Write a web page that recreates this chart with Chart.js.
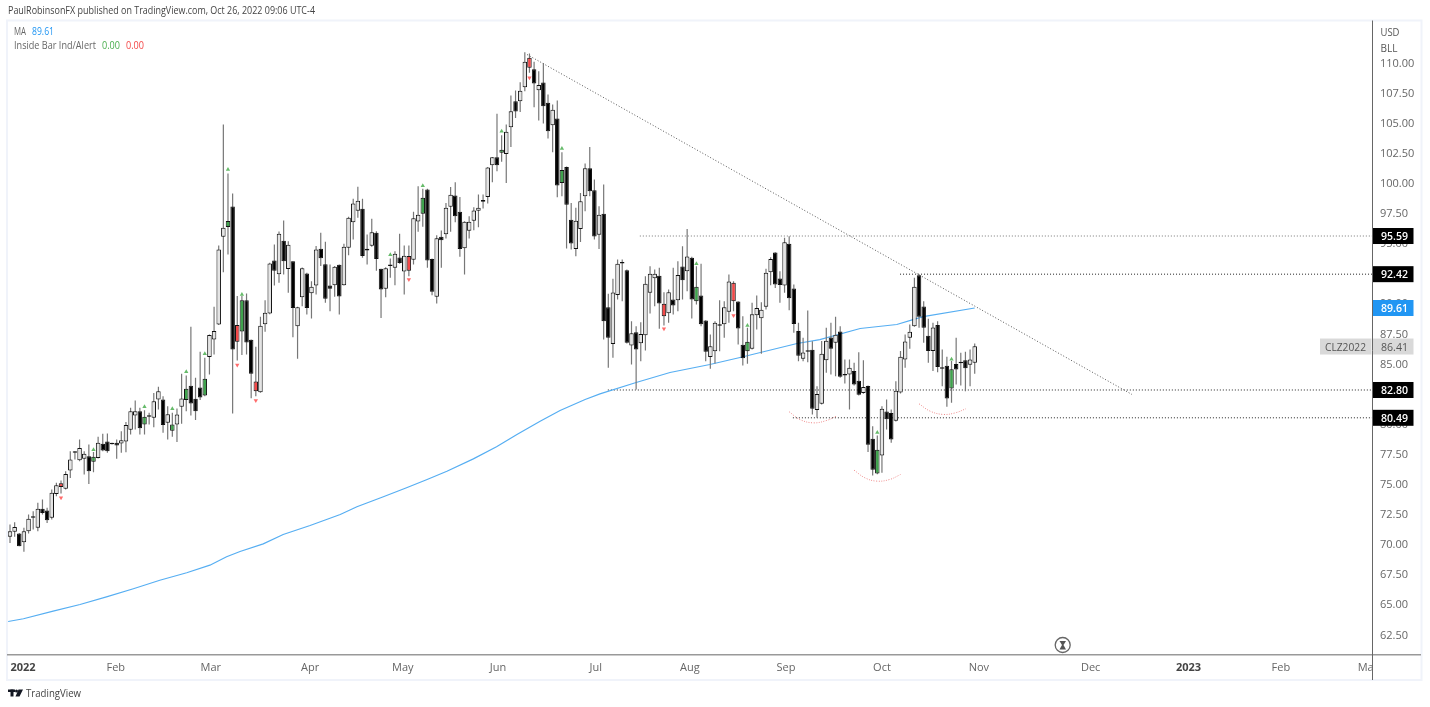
<!DOCTYPE html>
<html>
<head>
<meta charset="utf-8">
<title>CLZ2022</title>
<script src="https://cdn.jsdelivr.net/npm/chart.js@4"></script>
<style>
    html, body { margin: 0; padding: 0; background: #fff; }
    canvas { display: block; }
</style>
</head>
<body>
<canvas id="chart" width="1430" height="707"></canvas>
<script>
// candles, one per trading day
const opens = [70.60,71.02,70.88,70.16,71.07,72.26,71.35,72.93,72.79,72.18,74.17,75.06,74.59,76.11,77.63,76.97,77.08,77.30,76.83,77.16,78.33,78.52,78.35,78.41,78.35,78.52,79.49,80.68,81.04,79.93,80.65,80.49,82.01,82.01,80.07,79.41,
    79.93,81.40,81.96,83.15,82.07,83.01,82.34,85.53,87.00,88.24,95.52,96.33,98.04,88.19,87.66,90.26,86.97,83.51,82.62,88.27,89.16,93.56,92.42,95.19,92.84,93.50,88.10,90.51,92.48,90.84,91.48,94.53,93.25,91.48,91.51,93.20,91.51,94.61,96.74,97.68,97.85,94.53,94.78,95.86,92.87,91.20,93.14,92.95,93.81,92.64,93.92,
    93.61,96.79,97.43,99.45,93.69,90.54,95.52,95.74,98.01,98.95,97.60,94.58,96.02,96.85,97.68,98.43,98.84,101.47,102.14,102.50,102.41,104.63,106.79,106.79,107.95,110.39,109.45,107.70,108.34,106.65,104.79,105.35,100.00,101.33,96.93,94.52,96.18,98.90,101.22,99.40,95.69,97.43,89.68,86.63,90.70,93.31,92.75,86.50,87.60,
    86.69,87.35,90.87,92.09,92.28,89.96,89.18,90.32,90.26,93.06,92.67,93.78,90.18,90.65,88.57,85.55,86.02,88.18,88.27,89.29,91.70,90.15,86.55,86.02,86.22,89.01,88.76,89.71,92.59,94.22,92.06,91.48,94.94,91.23,87.71,85.39,86.05,
    86.14,81.13,81.65,85.28,87.16,86.72,87.66,84.09,84.09,84.37,83.56,82.54,83.14,78.74,75.86,77.36,81.01,80.88,80.24,82.59,85.33,87.13,88.10,92.34,89.74,87.30,86.03,88.19,84.64,84.81,82.92,84.95,85.08,85.28,84.89,85.06];
const highs = [71.63,71.82,70.93,71.35,72.46,72.73,73.43,73.70,73.01,74.53,75.09,75.28,76.06,77.72,77.72,78.69,77.72,78.27,77.66,78.91,79.16,79.18,78.41,78.69,79.38,80.15,81.32,81.93,81.32,81.12,80.90,82.56,83.06,82.29,81.45,80.90,
    81.26,84.14,84.00,88.05,83.81,85.97,85.47,87.41,89.71,94.80,104.85,100.78,99.12,90.60,90.60,90.82,87.00,86.39,88.88,90.26,93.36,94.89,95.97,96.88,95.16,93.50,89.71,92.98,92.53,91.84,94.75,95.86,95.11,93.23,93.09,93.23,94.94,97.18,98.68,99.68,98.68,95.72,97.02,95.99,92.87,93.00,93.72,94.33,95.77,94.80,94.80,
    97.60,99.73,99.51,99.51,93.72,95.66,96.05,98.34,99.67,100.06,98.84,96.82,97.24,97.98,99.04,99.04,101.33,102.16,105.74,103.96,104.85,107.26,107.67,108.37,110.86,110.75,110.06,109.28,109.97,107.34,106.51,106.84,102.55,101.36,98.34,97.93,99.17,101.61,102.99,100.28,98.06,99.87,90.79,92.03,93.64,93.64,92.81,88.52,88.10,
    88.43,92.25,93.08,92.81,92.95,90.92,91.15,92.95,93.50,94.74,96.18,93.86,93.08,93.28,88.60,87.41,88.52,90.26,90.18,92.39,91.84,90.18,88.93,87.96,90.04,90.65,90.09,92.86,93.83,94.25,92.67,95.44,95.58,91.56,88.38,87.13,89.40,
    86.85,83.12,86.86,87.96,88.38,88.88,88.10,85.33,85.33,85.06,85.94,85.28,83.17,79.79,79.02,81.46,82.01,81.18,83.53,86.03,87.41,88.24,92.12,92.39,90.18,88.71,88.38,88.52,86.16,85.56,85.20,87.13,85.89,85.97,86.16,86.66];
const lows = [70.10,70.60,69.82,69.36,70.88,71.21,71.07,72.46,71.76,72.04,73.98,74.20,74.53,75.50,77.02,76.89,75.78,75.00,75.97,77.11,77.72,77.58,78.27,77.08,77.58,77.63,79.10,79.52,79.10,79.10,79.93,79.71,81.18,79.24,78.69,78.91,
    78.47,79.99,81.04,80.68,80.30,81.96,82.29,84.09,85.75,88.19,92.59,94.06,80.85,85.25,85.70,85.75,82.12,82.29,82.57,87.63,89.10,91.48,91.70,92.40,90.87,87.19,85.39,89.76,89.07,88.74,90.73,93.09,90.04,89.35,90.54,89.07,91.48,94.00,95.30,97.10,93.78,93.23,94.69,92.70,88.77,90.51,92.12,91.51,93.28,90.73,92.25,
    93.22,95.94,96.35,92.95,90.67,89.98,92.95,95.38,95.94,96.74,93.86,92.39,95.38,96.07,96.32,97.87,98.29,100.06,100.97,101.75,100.00,102.99,105.40,105.90,107.62,109.14,106.29,105.18,104.93,103.69,102.55,98.81,98.90,94.55,94.47,93.91,95.10,97.65,98.90,95.30,94.52,86.99,84.64,85.47,90.32,90.18,86.66,84.92,82.84,
    85.19,86.08,89.15,89.76,87.88,88.16,88.38,89.07,89.35,90.32,91.01,88.74,89.90,88.10,85.19,84.56,85.00,86.02,87.13,88.38,89.35,86.58,84.83,84.97,86.16,87.82,85.80,89.48,91.51,91.28,90.04,90.87,89.43,87.55,85.19,85.19,85.11,
    80.77,80.49,81.60,84.23,84.09,83.95,83.81,83.34,81.18,83.17,82.34,82.48,77.64,75.70,75.81,75.92,79.52,78.41,80.18,82.51,84.64,86.22,88.05,87.96,86.72,85.06,84.37,84.28,83.12,81.40,81.73,83.26,83.17,82.70,83.12,84.14];
const closes = [71.07,71.43,69.82,71.07,72.10,72.18,72.93,72.59,71.99,74.26,74.89,74.75,75.83,77.02,77.58,77.99,77.50,76.06,77.25,78.41,77.77,77.72,78.30,78.19,78.63,79.90,81.04,81.04,79.63,80.57,80.57,81.87,82.70,79.90,80.79,79.93,
    80.77,82.09,82.90,81.68,81.04,82.18,83.73,87.36,87.69,94.47,96.27,96.83,86.17,86.80,90.26,86.75,84.14,82.70,88.13,89.21,93.31,92.70,95.77,93.50,94.86,89.60,89.68,92.92,89.60,91.37,94.47,93.75,90.37,91.20,93.03,90.57,94.69,97.10,98.29,98.51,93.92,94.39,95.91,93.67,91.15,92.92,93.09,94.11,93.34,93.95,92.70,
    97.07,97.35,98.76,93.55,90.95,95.41,95.24,97.93,99.01,97.24,94.52,96.77,96.77,97.71,97.93,98.59,101.28,102.14,101.47,102.75,104.24,105.96,105.93,107.65,110.06,109.56,108.26,108.14,106.37,104.30,106.07,99.78,101.08,98.18,94.96,96.85,98.48,101.22,99.31,95.55,97.35,88.52,87.13,90.90,93.28,93.44,86.72,87.52,86.16,
    87.46,91.62,92.45,92.45,89.98,88.93,90.92,89.82,92.36,91.92,93.89,90.32,91.37,88.27,85.97,86.44,88.38,88.13,89.68,91.81,90.18,87.91,85.44,86.80,89.10,89.62,89.46,92.53,93.69,91.56,91.53,95.08,90.43,88.29,85.64,85.91,85.97,
    81.24,82.46,85.80,86.88,86.22,87.38,83.89,84.00,84.64,83.26,82.40,83.04,78.25,76.17,77.83,81.24,80.38,78.69,82.73,85.56,86.83,87.63,91.37,88.88,87.96,86.03,87.99,84.70,84.56,82.10,84.53,84.50,85.03,84.61,85.33,86.44];

// bars the inside bar indicator paints
const greenBars = [18,29,35,38,42,47,50,89,106,119,148,159,187,203];
const redBars = [11,49,53,86,112,141,156];

// small arrows of the indicator
const arrowUpBars = [18,29,35,38,42,47,50,82,89,106,119,148,159,187,203];
const arrowUpValues = [77.83,81.40,81.24,84.31,85.81,101.12,90.73,94.03,99.76,104.30,102.86,93.28,88.16,79.27,85.36];
const arrowDownBars = [11,49,53,86,112,141,156];
const arrowDownValues = [73.84,84.87,81.93,91.98,108.73,87.88,88.99];

// moving average, sampled along the line
const maBars = [-0.4,2.9,9.3,15.1,20.8,26.6,32.3,38.1,43.1,46.7,49.6,54.6,58.9,64.7,71.2,74.8,80.5,85.5,89.8,94.2,99.9,104.9,109.3,114.3,118.6,124,127.2,135,142.3,150.9,157.4,169.7,174.6,183.3,191.2,194.7,196.9,208];
const maValues = [63.57,63.80,64.43,64.98,65.62,66.29,67.00,67.62,68.25,68.95,69.39,70.02,70.80,71.54,72.46,73.10,73.93,74.68,75.35,76.05,77.08,78.08,79.10,80.21,81.10,82.01,82.48,83.42,84.25,84.92,85.50,86.66,86.99,87.91,88.24,88.65,88.90,89.61];

// hand drawn lines
const trendBars = [111.5,241.9];
const trendValues = [110.66,82.43];
const levelValues = [95.59,92.42,82.80,80.49];
const levelStartBars = [135.8,191.9,128.9,168.8];
const arcBars = [[168,170.3,173.2,176.1,178.2],[182,184.3,186.9,189.7,192],[196,198.4,201.2,203.8,206.1]];
const arcValues = [[80.99,80.35,80.07,80.27,80.63],[76.14,75.51,75.23,75.37,75.78],[81.65,81.04,80.77,80.90,81.24]];

// axes
const priceTicks = [110,107.5,105,102.5,100,97.5,95,92.5,90,87.5,85,82.5,80,77.5,75,72.5,70,67.5,65,62.5];
const timeTickBars = [2.8,22.8,43.3,64.7,84.7,105.2,126.3,146.6,167.3,188,208.9,233,254.1,274,292.3];
const timeTickLabels = ['2022','Feb','Mar','Apr','May','Jun','Jul','Aug','Sep','Oct','Nov','Dec','2023','Feb','Ma'];

const FONT = '"Open Sans", sans-serif';
const minBar = -0.647;
const maxBar = 293.66;
const lastPrice = 86.41;
const maLast = 89.61;

const wickData = highs.map((h, i) => ({ x: i, y: [lows[i], h] }));
const bodyData = opens.map((o, i) => ({ x: i, y: [o, closes[i]] }));

function bodyColor(i) {
    if (greenBars.includes(i)) return '#3fa34d';
    if (redBars.includes(i)) return '#f44848';
    return closes[i] < opens[i] ? '#000000' : '#e4e4e4';
}

function zip(xs, ys) {
    return xs.map((x, i) => ({ x: x, y: ys[i] }));
}

const lineDefaults = { type: 'line', pointRadius: 0, borderWidth: 1, fill: false };

const levelSets = levelValues.map((v, i) => ({
    ...lineDefaults,
    data: [{ x: levelStartBars[i], y: v }, { x: maxBar, y: v }],
    borderColor: i === 0 ? '#777' : '#222',
    borderDash: [1, 2],
    order: 6
}));

const arcSets = arcBars.map((bars, i) => ({
    ...lineDefaults,
    data: zip(bars, arcValues[i]),
    borderColor: '#ef8a8a',
    borderDash: [1, 1.5],
    tension: 0.4,
    order: 6
}));

// price tags, header, legend and the other bits around the chart
const overlay = {
    id: 'overlay',
    afterDraw(chart) {
        const ctx = chart.ctx;
        const y = chart.scales.y;

        ctx.save();
        // frame
        ctx.strokeStyle = '#f0f3fa';
        ctx.lineWidth = 2;
        ctx.strokeRect(7, 20.5, 1414.5, 659.5);
        ctx.strokeStyle = '#999';
        ctx.lineWidth = 1.5;
        ctx.beginPath();
        ctx.moveTo(7, 654.8);
        ctx.lineTo(1421, 654.8);
        ctx.stroke();
        ctx.strokeStyle = '#666';
        ctx.lineWidth = 1;
        ctx.beginPath();
        ctx.moveTo(1372.5, 20.5);
        ctx.lineTo(1372.5, 680);
        ctx.stroke();

        ctx.textBaseline = 'middle';
        ctx.textAlign = 'left';

        // price tags
        ctx.font = '600 11.5px ' + FONT;
        levelValues.forEach(v => {
            const py = y.getPixelForValue(v);
            ctx.fillStyle = '#000';
            ctx.fillRect(1373, py - 8, 40.5, 16);
            ctx.fillStyle = '#fff';
            ctx.fillText(v.toFixed(2), 1381, py + 1, 27);
        });
        const maY = y.getPixelForValue(maLast);
        ctx.fillStyle = '#2196f3';
        ctx.fillRect(1373, maY - 8, 40.5, 16);
        ctx.fillStyle = '#fff';
        ctx.fillText(maLast.toFixed(2), 1381, maY + 1, 27);

        const lastY = y.getPixelForValue(lastPrice);
        ctx.fillStyle = '#d9d9d9';
        ctx.fillRect(1320, lastY - 8, 51.5, 16);
        ctx.fillRect(1373, lastY - 8, 40.5, 16);
        ctx.fillStyle = '#555';
        ctx.font = '11px ' + FONT;
        ctx.fillText('CLZ2022', 1325, lastY + 1, 41);
        ctx.fillText(lastPrice.toFixed(2), 1381, lastY + 1, 27);

        // currency and unit
        ctx.fillStyle = '#555';
        ctx.fillText('USD', 1380.5, 33, 19);
        ctx.fillText('BLL', 1380.5, 49, 17);

        // header
        ctx.fillStyle = '#444';
        ctx.font = '10.5px ' + FONT;
        ctx.fillText('PaulRobinsonFX published on TradingView.com, Oct 26, 2022 09:06 UTC-4', 8, 11.5, 307);

        // legend
        ctx.fillStyle = '#666';
        ctx.fillText('MA', 14, 32.5, 12);
        ctx.fillStyle = '#2196f3';
        ctx.fillText('89.61', 32, 32.5, 22);
        ctx.fillStyle = '#666';
        ctx.fillText('Inside Bar Ind/Alert', 14, 46, 82);
        ctx.fillStyle = '#4caf50';
        ctx.fillText('0.00', 102, 46, 18);
        ctx.fillStyle = '#f44848';
        ctx.fillText('0.00', 126, 46, 18);

        // hourglass
        ctx.strokeStyle = '#666';
        ctx.lineWidth = 1.3;
        ctx.beginPath();
        ctx.arc(1062.7, 645, 7.5, 0, Math.PI * 2);
        ctx.stroke();
        ctx.fillStyle = '#555';
        ctx.beginPath();
        ctx.moveTo(1059.5, 641);
        ctx.lineTo(1066, 641);
        ctx.lineTo(1063.5, 645);
        ctx.lineTo(1066, 649.5);
        ctx.lineTo(1059.5, 649.5);
        ctx.lineTo(1062, 645);
        ctx.closePath();
        ctx.fill();

        // footer logo and name
        ctx.fillStyle = '#131722';
        ctx.fillRect(8, 689.5, 7, 2.5);
        ctx.fillRect(10.5, 689.5, 3, 7);
        ctx.beginPath();
        ctx.arc(16.5, 691, 1.5, 0, Math.PI * 2);
        ctx.fill();
        ctx.beginPath();
        ctx.moveTo(18.5, 689.5);
        ctx.lineTo(23, 689.5);
        ctx.lineTo(19.5, 696.5);
        ctx.lineTo(15.5, 696.5);
        ctx.closePath();
        ctx.fill();
        ctx.fillStyle = '#444';
        ctx.font = '11px ' + FONT;
        ctx.fillText('TradingView', 26, 693.5, 55);
        ctx.restore();
    }
};

new Chart(document.getElementById('chart'), {
    type: 'bar',
    data: {
        datasets: [
            {
                data: bodyData,
                barThickness: 4.5,
                minBarLength: 1.5,
                borderWidth: 1,
                borderSkipped: false,
                inflateAmount: 0,
                borderColor: '#111',
                backgroundColor: ctx => bodyColor(ctx.dataIndex),
                grouped: false,
                order: 2
            },
            {
                data: wickData,
                barThickness: 1.2,
                borderWidth: 0,
                inflateAmount: 0,
                backgroundColor: '#777',
                grouped: false,
                order: 3
            },
            {
                type: 'scatter',
                data: zip(arrowUpBars, arrowUpValues),
                pointStyle: 'triangle',
                pointRadius: 2.5,
                pointBorderWidth: 0,
                backgroundColor: '#66bb6a',
                order: 1
            },
            {
                type: 'scatter',
                data: zip(arrowDownBars, arrowDownValues),
                pointStyle: 'triangle',
                rotation: 180,
                pointRadius: 2.5,
                pointBorderWidth: 0,
                backgroundColor: '#ff6b6b',
                order: 1
            },
            {
                ...lineDefaults,
                data: zip(maBars, maValues),
                borderColor: '#56aef2',
                borderWidth: 1.2,
                order: 5
            },
            {
                ...lineDefaults,
                data: zip(trendBars, trendValues),
                borderColor: '#555',
                borderDash: [1, 2],
                order: 6
            },
            ...levelSets,
            ...arcSets
        ]
    },
    options: {
        responsive: false,
        animation: false,
        devicePixelRatio: 1,
        events: [],
        layout: { padding: { left: 7, right: 8, top: 20.5, bottom: 27 } },
        plugins: { legend: { display: false }, tooltip: { enabled: false } },
        scales: {
            x: {
                type: 'linear',
                offset: false,
                min: minBar,
                max: maxBar,
                grid: { display: false, offset: false, drawTicks: false },
                border: { display: false },
                afterBuildTicks: scale => { scale.ticks = timeTickBars.map(v => ({ value: v })); },
                afterFit: scale => { scale.height = 25.5; },
                ticks: {
                    autoSkip: false,
                    maxRotation: 0,
                    padding: 7,
                    color: ctx => /^\d/.test(timeTickLabels[ctx.index]) ? '#444' : '#666',
                    font: ctx => ({ family: FONT, size: 11, weight: /^\d/.test(timeTickLabels[ctx.index]) ? '700' : '400' }),
                    callback: (v, i) => timeTickLabels[i]
                }
            },
            y: {
                position: 'right',
                min: 60.83,
                max: 113.49,
                grid: { display: false, drawTicks: false },
                border: { display: false },
                afterBuildTicks: scale => { scale.ticks = priceTicks.map(v => ({ value: v })); },
                afterFit: scale => { scale.width = 50; },
                ticks: {
                    padding: 8,
                    labelOffset: 1,
                    color: '#666',
                    font: { family: FONT, size: 11 },
                    callback: v => v.toFixed(2)
                }
            }
        }
    },
    plugins: [overlay]
});
</script>
</body>
</html>
